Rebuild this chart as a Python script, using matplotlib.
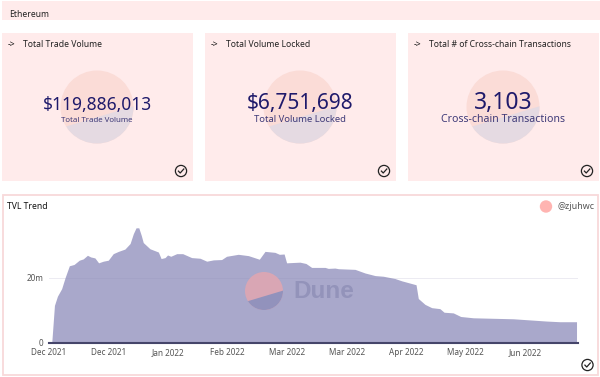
import matplotlib
matplotlib.use('Agg')
import matplotlib.pyplot as plt
from matplotlib.patches import Circle, Rectangle, Polygon

plt.rcParams['font.family'] = ['Noto Sans', 'DejaVu Sans']

##### card data
card_titles = ['Total Trade Volume', 'Total Volume Locked', 'Total # of Cross-chain Transactions']
card_values = ['$119,886,013', '$6,751,698', '3,103']
card_labels = ['Total Trade Volume', 'Total Volume Locked', 'Cross-chain Transactions']

##### TVL area, days since 1 Dec 2021 and value in millions
days = [1.1, 2.2, 3.4, 5.1, 6.5, 8.2, 10.1, 12.2, 13.8, 15.5, 16.8, 18.5, 20.0, 21.9, 23.9, 25.9,
        28.0, 30.6, 32.7, 34.0, 35.1, 36.2, 37.2, 38.0, 40.7, 44.1, 45.2, 46.8, 47.8, 49.1, 51.5,
        53.9, 57.5, 60.9, 63.6, 66.3, 69.6, 71.6, 76.3, 80.4, 84.8, 87.1, 91.1, 92.9, 94.8, 95.8,
        101.2, 103.6, 105.9, 111.3, 112.6, 115.3, 116.7, 123.4, 127.4, 131.5, 134.8, 139.5, 142.2,
        145.6, 148.0, 148.9, 151.6, 154.3, 157.6, 159.3, 163.0, 166.0, 171.1, 187.2, 200.7, 206.0, 212.7]
tvl = [0, 11.5, 14.3, 16.6, 20.0, 23.6, 24.0, 25.3, 25.7, 26.8, 26.3, 26.0, 24.5, 25.0, 25.3, 27.3,
       28.0, 28.7, 30.4, 33.4, 35.2, 35.2, 32.9, 30.7, 28.8, 27.8, 25.8, 26.1, 26.9, 26.5, 27.3,
       27.3, 26.1, 25.9, 25.0, 25.4, 25.5, 26.5, 27.1, 26.7, 25.6, 28.0, 27.7, 27.1, 27.2, 24.5,
       24.7, 24.3, 23.1, 23.1, 22.8, 22.9, 22.7, 22.5, 21.4, 20.6, 20.4, 19.7, 19.0,
       18.3, 17.8, 13.6, 11.8, 10.8, 10.5, 9.4, 9.2, 8.1, 7.7, 7.4, 6.7, 6.5, 6.5]
tick_days = [0, 24, 48, 72, 96, 120, 144, 168, 192]
tick_labels = ['Dec 2021', 'Dec 2021', 'Jan 2022', 'Feb 2022', 'Mar 2022', 'Mar 2022', 'Apr 2022', 'May 2022', 'Jun 2022']

pink = '#ffebeb'
navy = '#1f1a6b'
W, H = 600, 377


def logo(ax, cx, cy, r, top, bottom, z):
    # circle with a slanted lower part
    c = Circle((cx, cy), r, fc=top, ec='none', zorder=z)
    ax.add_patch(c)
    low = Polygon([(cx - 1.2*r, cy + 0.64*r), (cx + 1.2*r, cy - 0.08*r),
                   (cx + 1.2*r, cy + 1.2*r), (cx - 1.2*r, cy + 1.2*r)],
                  fc=bottom, ec='none', zorder=z + 0.1)
    ax.add_patch(low)
    low.set_clip_path(c)


def check(ax, cx, cy):
    ax.add_patch(Circle((cx, cy), 5.6, fc='none', ec='#222222', lw=0.9, zorder=6))
    ax.plot([cx - 2.6, cx - 0.8, cx + 2.8], [cy + 0.1, cy + 2, cy - 2], color='#222222', lw=0.9, zorder=6)


fig = plt.figure(figsize=(W/100, H/100), dpi=100)

# page background, y in pixels going down
bg = fig.add_axes([0, 0, 1, 1])
bg.set_xlim(0, W)
bg.set_ylim(H, 0)
bg.axis('off')

bg.add_patch(Rectangle((2, 1), 598, 19, fc=pink, ec='none'))
bg.text(9, 14.5, 'Ethereum', fontsize=6.2, color='#222222', va='center')

card_x = [2, 205, 408]
value_y = [105, 103.5, 102.5]
label_y = [120.5, 120, 119.5]
value_size = [12.5, 15, 16.5]
label_size = [5.7, 6.8, 7.6]
for i in range(3):
    x0 = card_x[i]
    bg.add_patch(Rectangle((x0, 33), 190.5, 148, fc=pink, ec='none'))
    cx = x0 + 95
    logo(bg, cx, 107, 36.5, '#fbdcd7', '#e5dae2', 2)
    bg.text(x0 + 5.5, 45, '->', fontsize=6.2, color='#111111', va='center', fontweight='bold')
    bg.text(x0 + 21, 44.5, card_titles[i], fontsize=6.2, color='#222222', va='center')
    bg.text(cx, value_y[i], card_values[i], fontsize=value_size[i], color=navy, ha='center', va='center', zorder=4)
    bg.text(cx, label_y[i], card_labels[i], fontsize=label_size[i], color='#3f3a78', ha='center', va='center', zorder=4)
    check(bg, x0 + 179, 171)

# TVL panel
bg.add_patch(Rectangle((2.5, 194.5), 595, 180, fc='white', ec='#f8d9da', lw=1.3))
bg.text(7, 206.5, 'TVL Trend', fontsize=6.2, color='#111111', va='center', fontweight='bold')
bg.add_patch(Circle((546, 206.5), 6.2, fc='#ffb4b1', ec='none'))
bg.text(557, 206.5, '@zjuhwc', fontsize=6.4, color='#555555', va='center')

left, right, top, bottom = 49, 578, 200, 343
ax = fig.add_axes([left/W, 1 - bottom/H, (right - left)/W, (bottom - top)/H])
ax.patch.set_alpha(0)
ax.fill_between(days, tvl, 0, color='#a9a8cb', lw=0, zorder=2)
ax.axhline(20, color='#8f8eb5', lw=0.6, alpha=0.2, zorder=3)
ax.set_xlim(0, 213.3)
ax.set_ylim(0, 43.7)
ax.set_xticks(tick_days)
ax.set_xticklabels(tick_labels)
ax.set_yticks([0, 20])
ax.set_yticklabels(['0', '20m'])
ax.tick_params(axis='both', length=0, labelsize=5.9, labelcolor='#555555')
ax.tick_params(axis='x', pad=3.5)
ax.tick_params(axis='y', pad=4)
for s in ['top', 'right', 'left']:
    ax.spines[s].set_visible(False)
ax.spines['bottom'].set_color('#45456a')
ax.spines['bottom'].set_linewidth(1.5)
ax.spines['bottom'].set_zorder(4)

# watermark and check on top of the chart
over = fig.add_axes([0, 0, 1, 1])
over.set_xlim(0, W)
over.set_ylim(H, 0)
over.axis('off')
over.patch.set_alpha(0)
logo(over, 264, 291, 19, '#d9a6b4', '#9292bc', 5)
over.text(293, 291.5, 'Dune', fontsize=17.5, fontweight='bold', color='#9393ba', va='center', family='Liberation Sans')
check(over, 587.5, 365)

plt.savefig('out.png', dpi=100)
